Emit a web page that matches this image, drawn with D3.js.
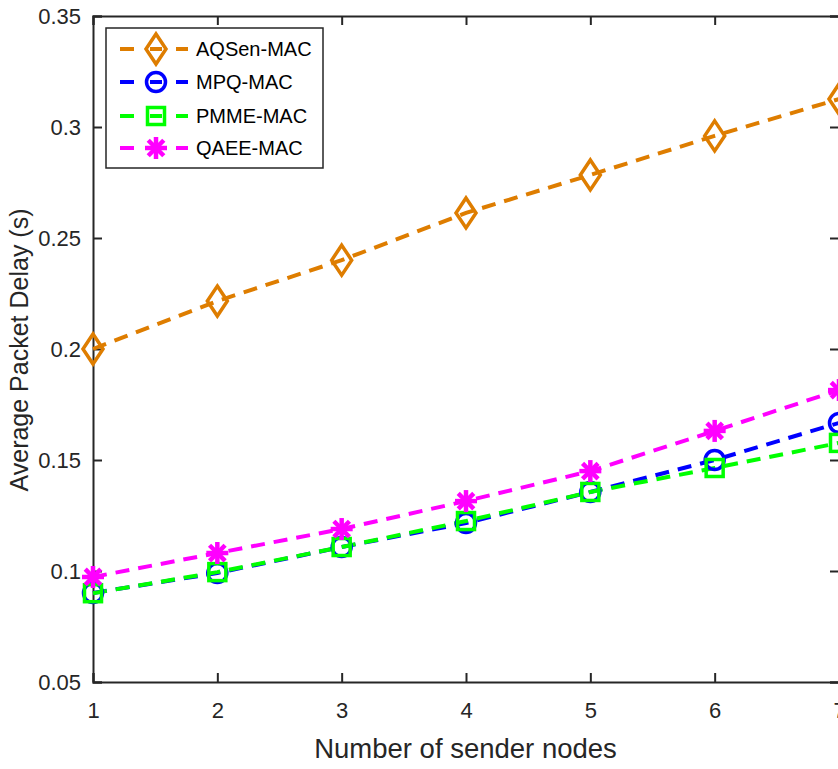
<!DOCTYPE html>
<html><head><meta charset="utf-8">
<script src="https://cdn.jsdelivr.net/npm/d3@7"></script>
<style>html,body{margin:0;padding:0;background:#fff;overflow:hidden}</style>
</head><body>
<script>
const nodes = [1, 2, 3, 4, 5, 6, 7];
const aqsen = [0.200, 0.2216, 0.240, 0.2613, 0.2784, 0.296, 0.3126];
const mpq   = [0.0901, 0.0991, 0.1108, 0.1216, 0.1356, 0.1500, 0.1667];
const pmme  = [0.0900, 0.0995, 0.1108, 0.1225, 0.1356, 0.1464, 0.1577];
const qaee  = [0.0973, 0.1081, 0.1189, 0.1315, 0.1450, 0.1631, 0.1815];
const seriesNames = ["AQSen-MAC", "MPQ-MAC", "PMME-MAC", "QAEE-MAC"];
const seriesColors = ["#DE7D00", "#0000FF", "#00FF00", "#FF00FF"];
const seriesMarkers = ["diamond", "circle", "square", "star"];
const yTicks = [0.05, 0.1, 0.15, 0.2, 0.25, 0.3, 0.35];
const yTickLabels = ["0.05", "0.1", "0.15", "0.2", "0.25", "0.3", "0.35"];
const xTicks = [1, 2, 3, 4, 5, 6, 7];

const W = 838, H = 769;
const L = 93, R = 839, T = 16, B = 682;
const axisColor = "#262626";
const font = "'Liberation Sans', Arial, Helvetica, sans-serif";

const svg = d3.select("body").append("svg").attr("width", W).attr("height", H);
const x = d3.scaleLinear().domain([1, 7]).range([L, R]);
const y = d3.scaleLinear().domain([0.05, 0.35]).range([B, T]);

// Frame and ticks
const g = svg.append("g");
const xAxisB = d3.axisBottom(x).tickValues(xTicks).tickSize(-9).tickPadding(20).tickFormat(d3.format("d"));
const xAxisT = d3.axisTop(x).tickValues(xTicks).tickSize(-9).tickFormat("");
const yAxisL = d3.axisLeft(y).tickValues(yTicks).tickSize(-9).tickPadding(12).tickFormat((d,i)=>yTickLabels[i]);
const yAxisR = d3.axisRight(y).tickValues(yTicks).tickSize(-9).tickFormat("");
function styleAxis(sel){
  sel.selectAll("path").attr("stroke", axisColor).attr("stroke-width", 2);
  sel.selectAll("line").attr("stroke", axisColor).attr("stroke-width", 2);
  sel.selectAll("text").attr("fill", axisColor).style("font-family", font).style("font-size", "22px");
}
g.append("g").attr("transform", `translate(0,${B})`).call(xAxisB).call(styleAxis);
g.append("g").attr("transform", `translate(0,${T})`).call(xAxisT).call(styleAxis);
g.append("g").attr("transform", `translate(${L},0)`).call(yAxisL).call(styleAxis);
g.append("g").attr("transform", `translate(${R},0)`).call(yAxisR).call(styleAxis);

// Axis labels
svg.append("text").attr("x", (L + 838) / 2).attr("y", 758).attr("text-anchor", "middle")
  .attr("fill", axisColor).style("font-family", font).style("font-size", "27.5px").text("Number of sender nodes");
svg.append("text").attr("transform", `translate(28,${(T + B) / 2 + 1}) rotate(-90)`).attr("text-anchor", "middle")
  .attr("fill", axisColor).style("font-family", font).style("font-size", "25px").text("Average Packet Delay (s)");

// Markers
function drawMarker(sel, type, cx, cy, color) {
  const m = sel.append("g").attr("transform", `translate(${cx},${cy})`)
    .attr("fill", "none").attr("stroke", color).attr("stroke-width", 3.5);
  if (type === "diamond") {
    m.append("path").attr("d", "M0,-15L10,0L0,15L-10,0Z").attr("stroke-linejoin", "miter");
  } else if (type === "circle") {
    m.append("circle").attr("r", 9.5);
  } else if (type === "square") {
    m.append("rect").attr("x", -8.5).attr("y", -8.5).attr("width", 17).attr("height", 17);
  } else if (type === "star") {
    const r = 11;
    [0, 45, 90, 135].forEach(a => {
      const rad = a * Math.PI / 180;
      m.append("line").attr("x1", -r * Math.cos(rad)).attr("y1", -r * Math.sin(rad))
        .attr("x2", r * Math.cos(rad)).attr("y2", r * Math.sin(rad)).attr("stroke-width", 4.5);
    });
  }
}

const allSeries = [aqsen, mpq, pmme, qaee];
const line = d3.line().x((d, i) => x(nodes[i])).y(d => y(d));
allSeries.forEach((vals, si) => {
  svg.append("path").datum(vals).attr("d", line).attr("fill", "none")
    .attr("stroke", seriesColors[si]).attr("stroke-width", 4).attr("stroke-dasharray", "14,9");
});
allSeries.forEach((vals, si) => {
  vals.forEach((v, i) => drawMarker(svg, seriesMarkers[si], x(nodes[i]), y(v), seriesColors[si]));
});

// Legend
const lg = svg.append("g");
lg.append("rect").attr("x", 106).attr("y", 28).attr("width", 217).attr("height", 140)
  .attr("fill", "#fff").attr("stroke", axisColor).attr("stroke-width", 1.5);
const legY = [49, 82, 116, 148];
seriesNames.forEach((name, si) => {
  const yy = legY[si];
  [[120, 134], [176, 188], [150, 162]].forEach(seg => {
    lg.append("line").attr("x1", seg[0]).attr("x2", seg[1]).attr("y1", yy).attr("y2", yy)
      .attr("stroke", seriesColors[si]).attr("stroke-width", 4);
  });
  drawMarker(lg, seriesMarkers[si], 156, yy, seriesColors[si]);
  lg.append("text").attr("x", 196).attr("y", yy).attr("dy", "0.36em")
    .attr("fill", "#000").style("font-family", font).style("font-size", "20px").text(name);
});
</script>
</body></html>
